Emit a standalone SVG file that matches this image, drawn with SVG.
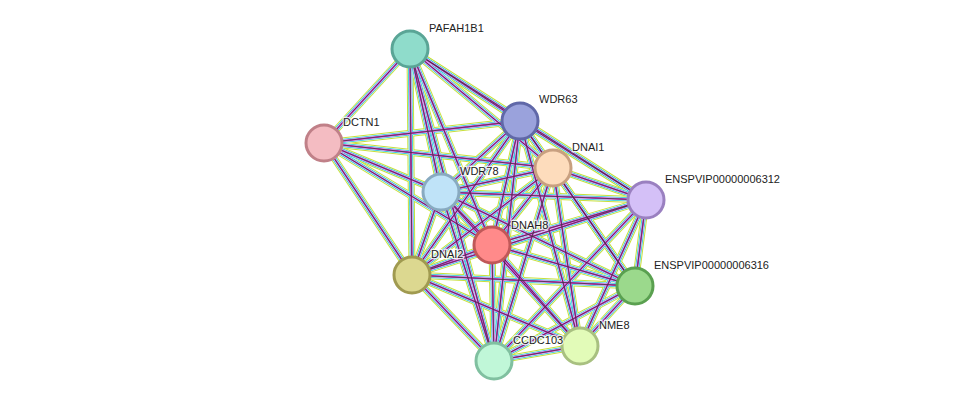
<svg xmlns="http://www.w3.org/2000/svg" xmlns:xlink="http://www.w3.org/1999/xlink" width="976" height="407" viewBox="0 0 976 407">
<style>
text{font-family:"Liberation Sans",Arial,sans-serif;font-size:11px;fill:#222;stroke:#fff;stroke-width:2.5;paint-order:stroke;stroke-opacity:0.8}
.n{stroke-width:3}
#E line{fill:none}
.l1{stroke:#c8df3a;stroke-width:7}
.l2{stroke:#fff;stroke-width:5}
.l3{stroke:#22c6da;stroke-width:4.2}
.l4{stroke:#fff;stroke-width:2.6}
.l5{stroke:#d33ad4;stroke-width:2}
.l6{stroke:#3a3a3a;stroke-width:0.8}
</style>
<rect width="976" height="407" fill="#fff"/>
<defs>
<g id="E">
<line x1="410" y1="49" x2="324" y2="143"/><line x1="410" y1="49" x2="520" y2="121"/><line x1="410" y1="49" x2="553" y2="168"/><line x1="410" y1="49" x2="441" y2="192"/><line x1="410" y1="49" x2="492" y2="245"/><line x1="410" y1="49" x2="412" y2="275"/><line x1="410" y1="49" x2="646" y2="200"/><line x1="410" y1="49" x2="494" y2="361"/>
<line x1="324" y1="143" x2="520" y2="121"/><line x1="324" y1="143" x2="553" y2="168"/><line x1="324" y1="143" x2="441" y2="192"/><line x1="324" y1="143" x2="492" y2="245"/><line x1="324" y1="143" x2="412" y2="275"/>
<line x1="520" y1="121" x2="553" y2="168"/><line x1="520" y1="121" x2="441" y2="192"/><line x1="520" y1="121" x2="492" y2="245"/><line x1="520" y1="121" x2="412" y2="275"/><line x1="520" y1="121" x2="646" y2="200"/><line x1="520" y1="121" x2="635" y2="286"/><line x1="520" y1="121" x2="580" y2="346"/><line x1="520" y1="121" x2="494" y2="361"/>
<line x1="553" y1="168" x2="441" y2="192"/><line x1="553" y1="168" x2="492" y2="245"/><line x1="553" y1="168" x2="412" y2="275"/><line x1="553" y1="168" x2="646" y2="200"/><line x1="553" y1="168" x2="635" y2="286"/><line x1="553" y1="168" x2="580" y2="346"/><line x1="553" y1="168" x2="494" y2="361"/>
<line x1="441" y1="192" x2="492" y2="245"/><line x1="441" y1="192" x2="412" y2="275"/><line x1="441" y1="192" x2="646" y2="200"/><line x1="441" y1="192" x2="635" y2="286"/><line x1="441" y1="192" x2="580" y2="346"/><line x1="441" y1="192" x2="494" y2="361"/>
<line x1="492" y1="245" x2="412" y2="275"/><line x1="492" y1="245" x2="646" y2="200"/><line x1="492" y1="245" x2="635" y2="286"/><line x1="492" y1="245" x2="580" y2="346"/><line x1="492" y1="245" x2="494" y2="361"/>
<line x1="412" y1="275" x2="646" y2="200"/><line x1="412" y1="275" x2="635" y2="286"/><line x1="412" y1="275" x2="580" y2="346"/><line x1="412" y1="275" x2="494" y2="361"/>
<line x1="646" y1="200" x2="635" y2="286"/><line x1="646" y1="200" x2="580" y2="346"/><line x1="646" y1="200" x2="494" y2="361"/>
<line x1="635" y1="286" x2="580" y2="346"/><line x1="635" y1="286" x2="494" y2="361"/><line x1="580" y1="346" x2="494" y2="361"/>
</g>
</defs>
<g id="connectors">
<use xlink:href="#E" class="l1"/><use xlink:href="#E" class="l2"/><use xlink:href="#E" class="l3"/><use xlink:href="#E" class="l4"/><use xlink:href="#E" class="l5"/><use xlink:href="#E" class="l6"/>
</g>
<g id="PAFAH1B1"><circle class="n" cx="410" cy="49" r="18" fill="#8fdccb" stroke="#5aa596"/><text x="429" y="32">PAFAH1B1</text></g>
<g id="WDR63"><circle class="n" cx="520" cy="121" r="18" fill="#9aa2dc" stroke="#6068a8"/><text x="539" y="103">WDR63</text></g>
<g id="DCTN1"><circle class="n" cx="324" cy="143" r="18" fill="#f4bcc2" stroke="#c08088"/><text x="343" y="126">DCTN1</text></g>
<g id="DNAI1"><circle class="n" cx="553" cy="168" r="18" fill="#fddcbc" stroke="#c8a080"/><text x="572" y="151">DNAI1</text></g>
<g id="WDR78"><circle class="n" cx="441" cy="192" r="18" fill="#bfe3f8" stroke="#88aac0"/><text x="460" y="175">WDR78</text></g>
<g id="ENSPVIP00000006312"><circle class="n" cx="646" cy="200" r="18" fill="#d4c0f7" stroke="#9a80c0"/><text x="665" y="183">ENSPVIP00000006312</text></g>
<g id="DNAH8"><circle class="n" cx="492" cy="245" r="18" fill="#ff8a8a" stroke="#c05858"/><text x="511" y="229">DNAH8</text></g>
<g id="DNAI2"><circle class="n" cx="412" cy="275" r="18" fill="#dcd890" stroke="#a09a50"/><text x="431" y="258">DNAI2</text></g>
<g id="ENSPVIP00000006316"><circle class="n" cx="635" cy="286" r="18" fill="#9bd98c" stroke="#5aa050"/><text x="654" y="269">ENSPVIP00000006316</text></g>
<g id="NME8"><circle class="n" cx="580" cy="346" r="18" fill="#e2fbb8" stroke="#a8c080"/><text x="599" y="329">NME8</text></g>
<g id="CCDC103"><circle class="n" cx="494" cy="361" r="18" fill="#c0f7d8" stroke="#80c0a0"/><text x="513" y="344">CCDC103</text></g>
</svg>
